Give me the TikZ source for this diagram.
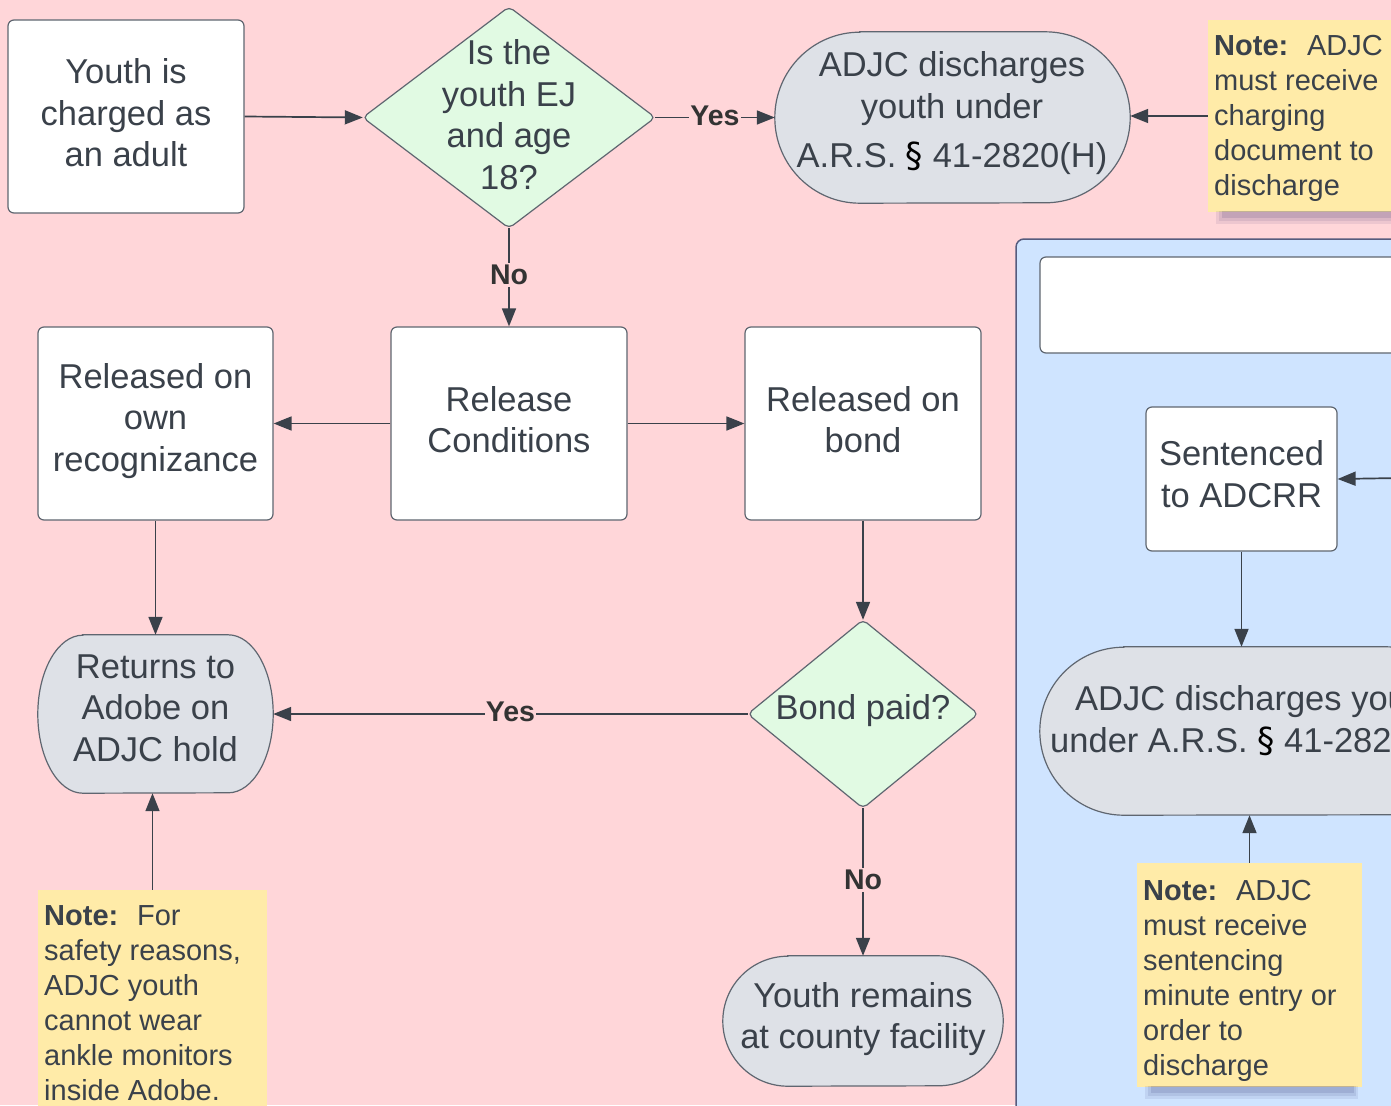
\documentclass[tikz,border=0pt]{standalone}
\usepackage{fontspec}
\setmainfont{Liberation Sans}
\newfontfamily\secfont{DejaVu Sans}
\usetikzlibrary{arrows.meta}
\definecolor{bgpink}{HTML}{FFD6D9}
\definecolor{panelblue}{HTML}{CFE4FF}
\definecolor{dgreen}{HTML}{E1FAE3}
\definecolor{pillgray}{HTML}{DEE1E7}
\definecolor{noteyel}{HTML}{FFEBA8}
\definecolor{txtc}{HTML}{3A414A}
\definecolor{bordc}{HTML}{5F6670}
\definecolor{edgec}{HTML}{3A414A}
\newcommand{\secsym}{{\color{black}\secfont\S}}
\newcommand{\pillshape}[3]{\draw[pillst] ([xshift=#2]#1.north west) -- ([xshift=-#2]#1.north east) arc[start angle=-90,end angle=90,x radius=#2,y radius=#3] -- ([xshift=#2]#1.south west) arc[start angle=90,end angle=270,x radius=#2,y radius=#3] -- cycle;}
\newcommand{\diashape}[1]{\draw[diast] (#1.north) -- (#1.east) -- (#1.south) -- (#1.west) -- cycle;}
\newcommand{\noteshadow}[1]{%
  \fill[black!70!blue,opacity=.07] ([xshift=8pt,yshift=1pt]#1.south west) rectangle ([xshift=-4pt,yshift=-12pt]#1.south east);
  \fill[black!70!blue,opacity=.08] ([xshift=11pt,yshift=1pt]#1.south west) rectangle ([xshift=-6pt,yshift=-9pt]#1.south east);
  \fill[black!70!blue,opacity=.10] ([xshift=14pt,yshift=1pt]#1.south west) rectangle ([xshift=-8pt,yshift=-6pt]#1.south east);}
\begin{document}
\begin{tikzpicture}[x=1pt,y=-1pt,
  shp/.style={rectangle,inner sep=0pt,draw=none},
  boxst/.style={shp,draw=bordc,line width=1.2pt,fill=white,rounded corners=6pt},
  pillst/.style={draw=bordc,line width=1.2pt,fill=pillgray},
  diast/.style={draw=bordc,line width=1.2pt,fill=dgreen,rounded corners=5pt},
  notest/.style={shp,fill=noteyel},
  txt/.style={text=txtc,align=center,inner sep=0pt,font=\fontsize{34.5}{41.5}\selectfont},
  ntxt/.style={text=txtc,align=left,inner sep=0pt,anchor=north west,font=\fontsize{29}{35}\selectfont},
  lbl/.style={font=\bfseries\fontsize{28.5}{30}\selectfont,text=black!80,fill=bgpink,inner xsep=1pt,inner ysep=2pt},
  arr/.style={draw=edgec,line width=1.7pt,-{Triangle[length=18pt,width=14pt]}}]
\useasboundingbox (0,0) rectangle (1391,1105);
\clip (0,0) rectangle (1391,1105);
\fill[bgpink] (0,0) rectangle (1391,1105);
% panel
\node[shp,fill=panelblue,draw=bordc!90!blue,line width=1.5pt,rounded corners=8pt,minimum width=420,minimum height=900] (panel) at (1226,689) {};
\node[boxst,minimum width=400,minimum height=96] (wbox) at (1240,305) {};
% shapes
\node[boxst,minimum width=236,minimum height=193] (youth) at (126,116.5) {};
\node[shp,minimum width=292,minimum height=221] (q1) at (509,117.5) {};
\diashape{q1}
\node[shp,minimum width=355,minimum height=171] (adj1) at (952.5,117.5) {};
\pillshape{adj1}{85}{85.5}
\node[notest,minimum width=192,minimum height=192] (tnote) at (1304,116) {};
\noteshadow{tnote}
\node[boxst,minimum width=236,minimum height=193] (rel) at (509,423.5) {};
\node[boxst,minimum width=235,minimum height=193] (own) at (155.5,423.5) {};
\node[boxst,minimum width=236,minimum height=193] (bond) at (863,423.5) {};
\node[shp,minimum width=235,minimum height=158] (ret) at (155.5,714) {};
\pillshape{ret}{45}{79}
\node[shp,minimum width=230,minimum height=188] (q2) at (863,714) {};
\diashape{q2}
\node[shp,minimum width=280,minimum height=130] (rem) at (863,1021) {};
\pillshape{rem}{65}{65}
\node[notest,minimum width=229,minimum height=240] (lnote) at (152.5,1010) {};
\node[boxst,minimum width=191,minimum height=144] (sent) at (1241.5,479) {};
\node[shp,minimum width=430,minimum height=168] (adj2) at (1255,731) {};
\pillshape{adj2}{84}{84}
\node[notest,minimum width=225,minimum height=224] (bnote) at (1249.5,975) {};
\noteshadow{bnote}
\coordinate (rin) at (1400,478);
% connectors
\draw[arr] (youth.east) -- (q1.west);
\draw[arr] (q1.east) -- node[lbl,yshift=2pt]{Yes} (adj1.west);
\draw[arr] (tnote.west) -- (tnote.west -| adj1.east);
\draw[arr] (q1.south) -- node[lbl,yshift=2pt]{No} (rel.north);
\draw[arr] (rel.west) -- (own.east);
\draw[arr] (rel.east) -- (bond.west);
\draw[arr] (own.south) -- (ret.north);
\draw[arr] (bond.south) -- (q2.north);
\draw[arr] (q2.west) -- node[lbl,yshift=2pt]{Yes} (ret.east);
\draw[arr] (q2.south) -- node[lbl,yshift=2pt]{No} (rem.north);
\draw[arr] (lnote.north) -- (lnote.north |- ret.south);
\draw[arr] (sent.south) -- (sent.south |- adj2.north);
\draw[arr] (bnote.north) -- (bnote.north |- adj2.south);
\draw[arr] (rin) -- (sent.east);
% texts
\node[txt] (youthT) at (126,113) {Youth is\\charged as\\an adult};
\node[txt] (q1T) at (509,114.5) {Is the\\youth EJ\\and age\\18?};
\node[txt] (adj1T) at (952,113) {ADJC discharges\\youth under\\[7.5pt]A.R.S. \secsym{} 41-2820(H)};
\node[txt] (relT) at (509,419.5) {Release\\Conditions};
\node[txt] (ownT) at (155.5,421) {Released on\\own\\recognizance};
\node[txt] (bondT) at (863,419.5) {Released on\\bond};
\node[txt] (retT) at (155.5,708) {Returns to\\Adobe on\\ADJC hold};
\node[txt] (q2T) at (863,711) {Bond paid?};
\node[txt] (remT) at (863,1019) {Youth remains\\at county facility};
\node[txt] (sentT) at (1241.5,474) {Sentenced\\to ADCRR};
\node[txt,anchor=west] (adj2a) at (1075,701.5) {ADJC discharges youth};
\node[txt,anchor=west] (adj2b) at (1050,743.5) {under A.R.S. \secsym{} 41-2820(H)};
\node[ntxt] (tnoteT) at (1214,34.6) {\textbf{Note:}~ ADJC\\must receive\\charging\\document to\\discharge};
\node[ntxt] (lnoteT) at (44,905.6) {\textbf{Note:}~ For\\safety reasons,\\ADJC youth\\cannot wear\\ankle monitors\\inside Adobe.};
\node[ntxt] (bnoteT) at (1143,879.6) {\textbf{Note:}~ ADJC\\must receive\\sentencing\\minute entry or\\order to\\discharge};
\end{tikzpicture}
\end{document}
